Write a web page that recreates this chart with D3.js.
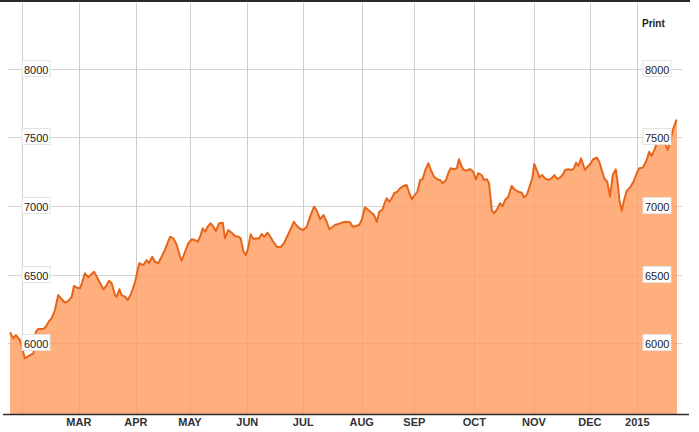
<!DOCTYPE html>
<html>
<head>
<meta charset="utf-8">
<script src="https://cdn.jsdelivr.net/npm/d3@7"></script>
<style>
  html, body { margin: 0; padding: 0; background: #fff; }
  svg { display: block; font-family: Arial, "Liberation Sans", sans-serif; }
</style>
</head>
<body>
<div id="chart"></div>
<script>
// Trading-session position (estimated) and index close
const session = [0,1.2,2.1,3.6,5.4,7.3,8.5,9.4,10.3,12.1,13.0,14.2,15.1,16.3,17.5,18.8,20.0,21.2,22.4,23.2,24.4,25.4,26.2,27.2,28.4,29.6,30.5,31.5,32.7,33.9,35.1,35.9,36.9,38.1,38.7,39.7,40.5,41.7,42.7,43.9,45.4,46.9,48.4,49.6,50.4,51.6,52.6,53.8,55.0,56.2,58.1,59.3,60.5,61.7,62.3,63.5,64.7,65.9,67.1,68.1,69.2,69.9,70.8,71.7,72.8,73.8,74.7,75.9,77.2,78.0,79.2,80.4,81.6,82.8,83.7,84.7,85.6,86.5,87.3,88.3,89.5,90.3,91.3,92.3,93.4,94.3,95.5,96.8,98.2,99.4,101.0,102.2,103.0,103.8,105.0,106.4,107.7,108.9,110.3,111.3,112.5,113.7,114.9,115.9,117.1,117.9,119.1,120.4,121.6,123.4,124.3,125.5,126.7,127.6,128.8,130.0,131.2,132.1,133.1,134.0,135.2,136.1,136.7,137.6,138.5,139.4,140.5,141.5,142.7,143.9,144.9,145.8,146.6,147.8,148.8,149.7,150.7,151.8,152.6,153.8,155.0,156.0,157.0,158.2,159.0,159.9,161.1,162.1,162.9,163.9,164.7,165.7,166.9,168.1,169.0,169.9,171.1,172.0,173.0,173.8,174.8,175.6,176.6,177.8,178.8,179.6,180.8,182.0,183.2,184.4,185.7,186.5,187.5,188.7,189.5,190.2,191.1,192.1,193.1,194.1,195.3,196.5,197.5,198.6,199.6,200.5,201.4,202.6,203.8,204.6,205.4,206.2,207.2,207.8,208.6,209.6,210.7,211.6,212.9,213.8,214.7,215.6,216.7,217.7,218.7,219.8,220.5,221.1,222.0,222.8,223.8,225.0,226.2,227.4,228.3,229.6,231.0,231.9,232.8,233.8,234.7,235.6,236.7,237.7,238.6,239.5,240.5,241.7,242.0];
const close = [6078,6034,6058,6022,5888,5912,5925,6083,6102,6102,6119,6161,6180,6241,6350,6319,6294,6307,6338,6416,6404,6399,6443,6509,6480,6504,6520,6484,6436,6392,6423,6455,6436,6350,6338,6392,6350,6338,6314,6358,6447,6582,6569,6606,6582,6630,6593,6582,6630,6679,6776,6764,6715,6630,6601,6666,6728,6757,6752,6739,6788,6837,6812,6849,6874,6849,6818,6874,6878,6764,6825,6805,6781,6776,6764,6666,6642,6703,6793,6759,6764,6761,6796,6776,6805,6781,6739,6703,6699,6728,6796,6849,6885,6861,6837,6825,6849,6922,6995,6966,6903,6934,6885,6830,6849,6861,6869,6878,6885,6881,6849,6854,6861,6898,6991,6971,6951,6934,6885,6958,6976,7031,7056,7031,7056,7093,7104,7129,7146,7153,7093,7049,7073,7104,7190,7195,7263,7312,7268,7214,7195,7190,7166,7190,7239,7275,7268,7275,7341,7287,7263,7258,7270,7250,7195,7239,7226,7190,7195,7166,6971,6947,6971,7020,7000,7044,7068,7146,7117,7104,7097,7064,7080,7153,7202,7307,7263,7209,7226,7202,7190,7202,7226,7197,7209,7226,7263,7268,7263,7275,7316,7292,7348,7312,7263,7287,7312,7341,7353,7323,7263,7202,7177,7068,7226,7268,7166,7044,6966,7044,7112,7136,7177,7239,7275,7280,7336,7396,7365,7409,7462,7462,7458,7462,7409,7469,7555,7623,7630];

// Month boundaries (in sessions) and their labels
const monthStart = [4.2, 25.0, 45.7, 65.3, 86.1, 106.4, 127.6, 146.7, 168.5, 190.1, 210.4, 227.6];
const monthLabels = ["", "MAR", "APR", "MAY", "JUN", "JUL", "AUG", "SEP", "OCT", "NOV", "DEC", "2015"];
const yTicks = [6000, 6500, 7000, 7500, 8000];
const yTickLabels = ["6000", "6500", "7000", "7500", "8000"];

const W = 699, H = 432;
const svg = d3.select("#chart").append("svg").attr("width", W).attr("height", H);

const x = d3.scaleLinear().domain([0, 242]).range([10, 677]);
const y = d3.scaleLinear().domain([5482, 8496]).range([414, 1]);

const data = session.map((s, i) => ({ s, v: close[i] }));

// horizontal gridlines
svg.append("g").selectAll("line").data(yTicks).join("line")
  .attr("x1", 8).attr("x2", 682)
  .attr("y1", d => Math.round(y(d)) + 0.5).attr("y2", d => Math.round(y(d)) + 0.5)
  .attr("stroke", "#d4d4d4").attr("stroke-width", 1);

// vertical gridlines
svg.append("g").selectAll("line").data(monthStart).join("line")
  .attr("x1", d => Math.round(x(d)) + 0.5).attr("x2", d => Math.round(x(d)) + 0.5)
  .attr("y1", 3).attr("y2", 414)
  .attr("stroke", "#cfcfcf").attr("stroke-width", 1);

// area
const area = d3.area().x(d => x(d.s)).y0(y.range()[0]).y1(d => y(d.v));
svg.append("path").datum(data).attr("d", area)
  .attr("fill", "#ff9a5e").attr("fill-opacity", 0.8);

// line
const line = d3.line().x(d => x(d.s)).y(d => y(d.v));
svg.append("path").datum(data).attr("d", line)
  .attr("fill", "none").attr("stroke", "#e5661a").attr("stroke-width", 2)
  .attr("stroke-linejoin", "round");

// top border and bottom axis line
svg.append("line").attr("x1", 0).attr("x2", 690).attr("y1", 1).attr("y2", 1)
  .attr("stroke", "#2a2a2a").attr("stroke-width", 2);
svg.append("line").attr("x1", 3).attr("x2", 689).attr("y1", 414.5).attr("y2", 414.5)
  .attr("stroke", "#2a2a2a").attr("stroke-width", 1.5);

// y labels (left and right boxes)
function yLabels(x0) {
  const g = svg.append("g");
  const items = g.selectAll("g").data(yTicks).join("g")
    .attr("transform", d => `translate(${x0},${Math.round(y(d))})`);
  items.append("rect").attr("x", 0.5).attr("y", -8.5).attr("width", 28).attr("height", 16)
    .attr("fill", "#fff").attr("stroke", "#e2e2e2");
  items.append("text").attr("x", 2.5).attr("y", 4.5)
    .attr("font-size", 11).attr("fill", "#222")
    .text((d, i) => yTickLabels[i]);
}
yLabels(21.5);
yLabels(642.5);

// month labels
svg.append("g").selectAll("text").data(monthStart).join("text")
  .attr("x", d => x(d)).attr("y", 426)
  .attr("text-anchor", "middle").attr("font-size", 11).attr("font-weight", "bold")
  .attr("fill", "#333")
  .text((d, i) => monthLabels[i]);

// Print
svg.append("text").attr("x", 642).attr("y", 27)
  .attr("font-size", 10).attr("font-weight", "bold").attr("fill", "#222").text("Print");
</script>
</body>
</html>
